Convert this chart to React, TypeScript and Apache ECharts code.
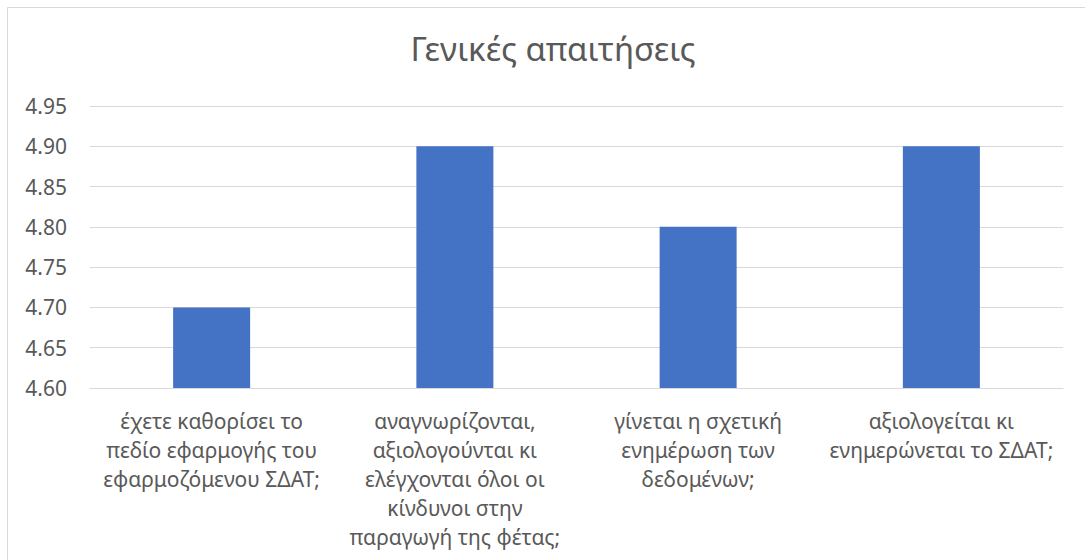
import React, { useEffect, useRef } from "react";
import * as echarts from "echarts";

const titleText = "Γενικές απαιτήσεις";

const categories = [
  "έχετε καθορίσει το\nπεδίο εφαρμογής του\nεφαρμοζόμενου ΣΔΑΤ;",
  "αναγνωρίζονται,\nαξιολογούνται κι\nελέγχονται όλοι οι\nκίνδυνοι στην\nπαραγωγή της φέτας;",
  "γίνεται η σχετική\nενημέρωση των\nδεδομένων;",
  "αξιολογείται κι\nενημερώνεται το ΣΔΑΤ;",
];

const values = [4.7, 4.9, 4.8, 4.9];

const yMin = 4.6;
const yMax = 4.95;
const yStep = 0.05;

const FONT = "'Noto Sans', 'Open Sans', sans-serif";
const TEXT_COLOR = "#595959";
const GRID_COLOR = "#d9d9d9";

export default function App() {
  const ref = useRef<HTMLDivElement>(null);

  useEffect(() => {
    if (!ref.current) return;
    const chart = echarts.init(ref.current, undefined, { renderer: "svg" });
    chart.setOption({
      animation: false,
      backgroundColor: "#ffffff",
      title: {
        text: titleText,
        left: 548,
        top: 27,
        textAlign: "center",
        textStyle: {
          fontFamily: FONT,
          fontSize: 33,
          fontWeight: "normal",
          color: TEXT_COLOR,
        },
      },
      graphic: [
        {
          type: "rect",
          shape: { x: 7.5, y: 7.5, width: 1100, height: 600 },
          style: { fill: "none", stroke: GRID_COLOR, lineWidth: 1 },
          silent: true,
        },
      ],
      grid: { left: 90, right: 22, top: 106, bottom: 172 },
      xAxis: {
        type: "category",
        data: categories,
        axisLine: { show: true, lineStyle: { color: GRID_COLOR, width: 1 } },
        axisTick: { show: false },
        axisLabel: {
          interval: 0,
          margin: 18,
          fontFamily: FONT,
          fontSize: 21,
          lineHeight: 29,
          color: TEXT_COLOR,
          align: "center",
        },
      },
      yAxis: {
        type: "value",
        min: yMin,
        max: yMax,
        interval: yStep,
        axisLine: { show: false },
        axisTick: { show: false },
        splitLine: { lineStyle: { color: GRID_COLOR, width: 1 } },
        axisLabel: {
          margin: 23,
          fontFamily: FONT,
          fontSize: 21,
          color: TEXT_COLOR,
          formatter: (v: number) => v.toFixed(2),
        },
      },
      series: [
        {
          type: "bar",
          data: values,
          barWidth: 77,
          itemStyle: { color: "#4472C4" },
        },
      ],
    });
    return () => chart.dispose();
  }, []);

  return (
    <div
      ref={ref}
      style={{ position: "fixed", left: 0, top: 0, width: 1085, height: 560 }}
    />
  );
}
